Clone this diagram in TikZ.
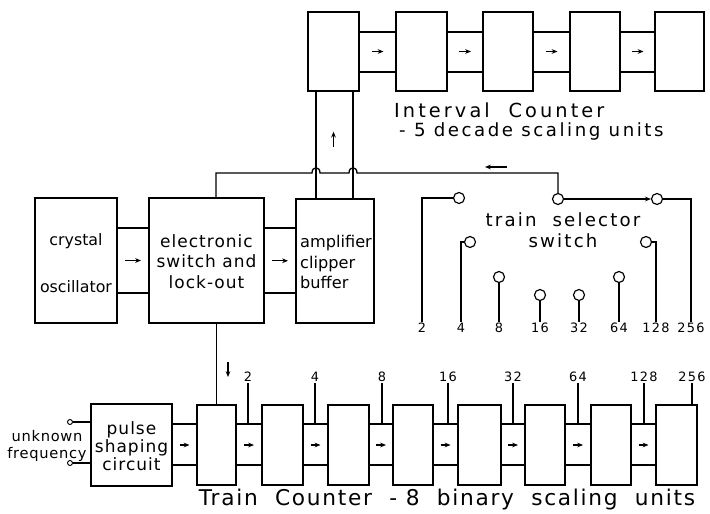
\documentclass[tikz,border=0pt]{standalone}
\usepackage{fontspec}
\setmainfont{DejaVu Sans}
\usetikzlibrary{arrows.meta,fit,calc}
\tikzset{
  unit/.style={draw,line width=1.1pt,inner sep=0pt},
  contact/.style={draw,circle,line width=1pt,minimum size=0.33cm,inner sep=0pt},
  term/.style={draw,circle,line width=0.8pt,minimum size=0.15cm,inner sep=0pt},
  wire/.style={line width=1.1pt},
  flow/.style={line width=1pt,-{Stealth[length=5pt,width=4pt]}},
  tag/.style={font=\fontsize{11}{12}\selectfont\addfontfeatures{LetterSpace=10},inner sep=1pt},
  boxtext/.style={font=\fontsize{14.5}{17.5}\selectfont\addfontfeatures{LetterSpace=6},align=center},
  caption/.style={font=\fontsize{15.5}{18}\selectfont\addfontfeatures{LetterSpace=14}},
}

\begin{document}
\begin{tikzpicture}[x=0.03cm,y=-0.03cm]
\path[use as bounding box] (0,0) rectangle (710,514);

% interval counter - 5 decade units
\node[unit,fit={(308,12) (359,91)}] (i1) {};
\node[unit,fit={(396,12) (447,91)}] (i2) {};
\node[unit,fit={(483,12) (533,91)}] (i3) {};
\node[unit,fit={(570,12) (620,91)}] (i4) {};
\node[unit,fit={(655,12) (704,91)}] (i5) {};
\draw[wire] (i1.east|-0,32) -- (i2.west|-0,32);
\draw[wire] (i1.east|-0,72) -- (i2.west|-0,72);
\draw[flow] ($(i1.east)!.5!(i2.west)+(-6,0)$) -- +(12,0);
\draw[wire] (i2.east|-0,32) -- (i3.west|-0,32);
\draw[wire] (i2.east|-0,72) -- (i3.west|-0,72);
\draw[flow] ($(i2.east)!.5!(i3.west)+(-6,0)$) -- +(12,0);
\draw[wire] (i3.east|-0,32) -- (i4.west|-0,32);
\draw[wire] (i3.east|-0,72) -- (i4.west|-0,72);
\draw[flow] ($(i3.east)!.5!(i4.west)+(-6,0)$) -- +(12,0);
\draw[wire] (i4.east|-0,32) -- (i5.west|-0,32);
\draw[wire] (i4.east|-0,72) -- (i5.west|-0,72);
\draw[flow] ($(i4.east)!.5!(i5.west)+(-6,0)$) -- +(12,0);
\node[anchor=west,font=\fontsize{16.5}{18}\selectfont\addfontfeatures{LetterSpace=16}] (ictitle) at (390,110) {Interval\hspace{16pt}Counter};
\node[caption,anchor=west] (icsub) at (395,131) {- 5 decade scaling units};

% middle row
\node[unit,fit={(35,198) (117,323)}] (osc) {};
\node[unit,fit={(149,198) (264,323)}] (esw) {};
\node[unit,fit={(296,199) (374,323)}] (amp) {};
\node[align=center,font=\fontsize{13.5}{16}\selectfont] (osctxt) at ($(osc.center)+(0,3)$) {crystal\\[24pt]oscillator};
\node[boxtext] (eswtxt) at ($(esw.center)+(0,1)$) {electronic\\switch and\\lock-out};
\node[align=left,font=\fontsize{13.8}{17.5}\selectfont] (amptxt) at ($(amp.center)+(1,1)$) {amplifier\\clipper\\buffer};
\draw[wire] (osc.east|-0,228) -- (esw.west|-0,228);
\draw[wire] (osc.east|-0,293) -- (esw.west|-0,293);
\draw[flow] ($(osc.east)!.5!(esw.west)+(-8,0)$) -- +(16,0);
\draw[wire] (esw.east|-0,228) -- (amp.west|-0,228);
\draw[wire] (esw.east|-0,293) -- (amp.west|-0,293);
\draw[flow] ($(esw.east)!.5!(amp.west)+(-8,0)$) -- +(16,0);
\draw[wire] (amp.north-|316,0) -- (i1.south-|316,0);
\draw[wire] (amp.north-|353,0) -- (i1.south-|353,0);
\draw[flow] ($(i1.south)+(0,55)$) -- +(0,-15);

% train selector switch
\node[contact] (cc) at (558,199) {};
\node[contact] (c256) at (657,199) {};
\node[contact] (c2) at (459,198) {};
\node[contact] (c4) at (470,242) {};
\node[contact] (c8) at (499,277) {};
\node[contact] (c16) at (540,295) {};
\node[contact] (c32) at (579,295) {};
\node[contact] (c64) at (619,277) {};
\node[contact] (c128) at (646,242) {};
\node[tag] (n2) at (422,328) {2};
\node[tag] (n4) at (461,328) {4};
\node[tag] (n8) at (499,328) {8};
\node[tag] (n16) at (540,328) {16};
\node[tag] (n32) at (579,328) {32};
\node[tag] (n64) at (619,328) {64};
\node[tag] (n128) at (656,328) {128};
\node[tag] (n256) at (691,328) {256};
\draw[wire] (c2.west) -| (n2.north);
\draw[wire] (c4.west) -| (n4.north);
\draw[wire] (c8.south) -- (n8.north);
\draw[wire] (c16.south) -- (n16.north);
\draw[wire] (c32.south) -- (n32.north);
\draw[wire] (c64.south) -- (n64.north);
\draw[wire] (c128.east) -| (n128.north);
\draw[wire] (c256.east) -| (n256.north);
\draw[flow] (cc.east) -- (c256.west);
\node[align=center,font=\fontsize{15.5}{18}\selectfont\addfontfeatures{LetterSpace=12}] (swtitle) at (563,230) {train\ \ selector\\switch};

% feed back from switch to electronic switch
\draw[wire] (esw.north-|216,0) |- (312,173) .. controls (312,166) and (320,166) .. (320,173) -- (349,173) .. controls (349,166) and (357,166) .. (357,173) -| (cc.north);
\draw[flow] (507,167) -- (485,167);

% train counter - 8 binary units
\node[unit,fit={(91,404) (172,486)}] (psc) {};
\node[align=center,font=\fontsize{14.5}{15.5}\selectfont\addfontfeatures{LetterSpace=6}] (psctxt) at ($(psc.center)+(0,1)$) {pulse\\shaping\\circuit};
\node[unit,fit={(197,405) (236,485)}] (b1) {};
\node[unit,fit={(262,405) (303,485)}] (b2) {};
\node[unit,fit={(328,405) (369,485)}] (b3) {};
\node[unit,fit={(393,405) (433,485)}] (b4) {};
\node[unit,fit={(458,405) (501,485)}] (b5) {};
\node[unit,fit={(525,405) (565,485)}] (b6) {};
\node[unit,fit={(591,405) (631,485)}] (b7) {};
\node[unit,fit={(656,405) (697,485)}] (b8) {};
\draw[wire] (esw.south-|b1.north) -- (b1.north);
\draw[flow] (228,362) -- (228,377);
\draw[wire] (psc.east|-0,424) -- (b1.west|-0,424);
\draw[wire] (psc.east|-0,465) -- (b1.west|-0,465);
\draw[flow] ($(psc.east)!.5!(b1.west)+(-5,0)$) -- +(10,0);
\draw[wire] (b1.east|-0,424) -- (b2.west|-0,424);
\draw[wire] (b1.east|-0,465) -- (b2.west|-0,465);
\draw[flow] ($(b1.east)!.5!(b2.west)+(-5,0)$) -- +(10,0);
\draw[wire] (b2.east|-0,424) -- (b3.west|-0,424);
\draw[wire] (b2.east|-0,465) -- (b3.west|-0,465);
\draw[flow] ($(b2.east)!.5!(b3.west)+(-5,0)$) -- +(10,0);
\draw[wire] (b3.east|-0,424) -- (b4.west|-0,424);
\draw[wire] (b3.east|-0,465) -- (b4.west|-0,465);
\draw[flow] ($(b3.east)!.5!(b4.west)+(-5,0)$) -- +(10,0);
\draw[wire] (b4.east|-0,424) -- (b5.west|-0,424);
\draw[wire] (b4.east|-0,465) -- (b5.west|-0,465);
\draw[flow] ($(b4.east)!.5!(b5.west)+(-5,0)$) -- +(10,0);
\draw[wire] (b5.east|-0,424) -- (b6.west|-0,424);
\draw[wire] (b5.east|-0,465) -- (b6.west|-0,465);
\draw[flow] ($(b5.east)!.5!(b6.west)+(-5,0)$) -- +(10,0);
\draw[wire] (b6.east|-0,424) -- (b7.west|-0,424);
\draw[wire] (b6.east|-0,465) -- (b7.west|-0,465);
\draw[flow] ($(b6.east)!.5!(b7.west)+(-5,0)$) -- +(10,0);
\draw[wire] (b7.east|-0,424) -- (b8.west|-0,424);
\draw[wire] (b7.east|-0,465) -- (b8.west|-0,465);
\draw[flow] ($(b7.east)!.5!(b8.west)+(-5,0)$) -- +(10,0);
\node[tag] (t2) at (248,377) {2};
\node[tag] (t4) at (315,377) {4};
\node[tag] (t8) at (382,377) {8};
\node[tag] (t16) at (448,377) {16};
\node[tag] (t32) at (513,377) {32};
\node[tag] (t64) at (578,377) {64};
\node[tag] (t128) at (644,377) {128};
\node[tag] (t256) at (692,377) {256};
\draw[wire] (t2.south) -- (t2.south|-0,424);
\draw[wire] (t4.south) -- (t4.south|-0,424);
\draw[wire] (t8.south) -- (t8.south|-0,424);
\draw[wire] (t16.south) -- (t16.south|-0,424);
\draw[wire] (t32.south) -- (t32.south|-0,424);
\draw[wire] (t64.south) -- (t64.south|-0,424);
\draw[wire] (t128.south) -- (t128.south|-0,424);
\draw[wire] (t256.south) -- (t256.south|-b8.north);

% unknown frequency input
\node[term] (ta) at (70,422) {};
\node[term] (tb) at (70,463) {};
\draw[wire] (ta.east) -- (psc.west|-ta);
\draw[wire] (tb.east) -- (psc.west|-tb);
\node[align=center,font=\fontsize{12.5}{14}\selectfont\addfontfeatures{LetterSpace=5}] (uf) at (47,446) {unknown\\frequency};
\node[font=\fontsize{18.5}{22}\selectfont\addfontfeatures{LetterSpace=8}] (tctitle) at (447,500) {Train\ \ Counter\ \ -\ 8\ \ binary\ \ scaling\ \ units};
\end{tikzpicture}
\end{document}
